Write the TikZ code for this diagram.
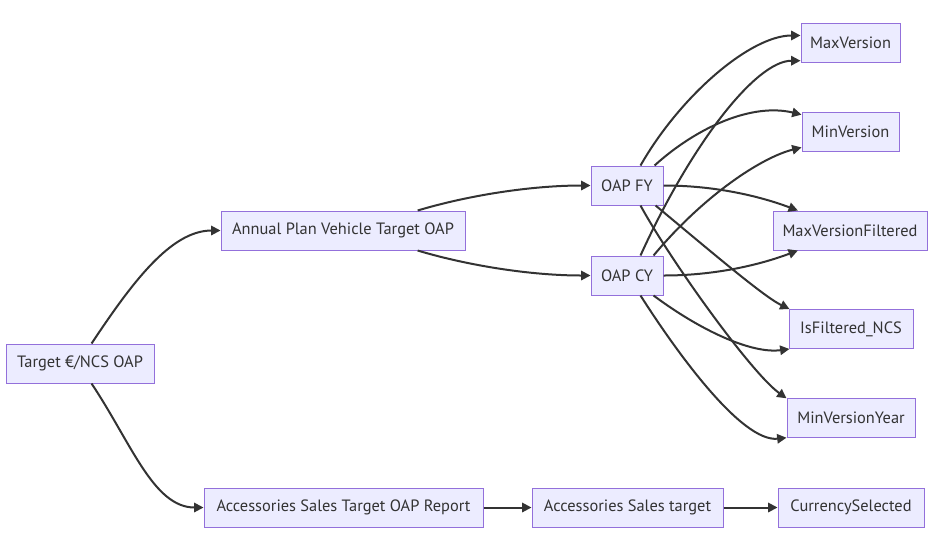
\documentclass[tikz,border=0pt]{standalone}
\usepackage{fontspec}
\setmainfont{PT Sans}
\usetikzlibrary{arrows.meta, positioning}
\definecolor{boxfill}{HTML}{ECECFF}
\definecolor{boxline}{HTML}{9370DB}
\definecolor{linkgray}{HTML}{333333}
\begin{document}
\begin{tikzpicture}[x=0.75pt, y=-0.75pt,
		box/.style={draw=boxline, fill=boxfill, line width=0.75pt, inner sep=0pt,
			minimum height=29.25pt, font=\fontsize{12.3}{14}\selectfont, text=linkgray},
		link/.style={draw=linkgray, line width=1.5pt, -{Triangle[length=7pt, width=7pt]}}]
				\useasboundingbox (0,0) rectangle (937,537);

				\node[box, minimum width=111pt] (target) at (80,363.5) {Target €/NCS OAP};
				\node[box, minimum width=183pt] (annual) at (343,230.5) {Annual Plan Vehicle Target OAP};
				\node[box, minimum width=209.25pt] (report) at (343.5,507.5) {Accessories Sales Target OAP Report};
				\node[box, minimum width=54pt] (fy) at (627,185.5) {OAP FY};
				\node[box, minimum width=54pt] (cy) at (627,275.5) {OAP CY};
				\node[box, minimum width=143.25pt] (acctarget) at (627.5,507.5) {Accessories Sales target};
				\node[box, minimum width=74.25pt] (maxv) at (850.5,42.5) {MaxVersion};
				\node[box, minimum width=72.75pt] (minv) at (850.5,131.5) {MinVersion};
				\node[box, minimum width=115.5pt] (maxvf) at (850,230.5) {MaxVersionFiltered};
				\node[box, minimum width=93pt] (isf) at (851,329) {IsFiltered\_NCS};
				\node[box, minimum width=96pt] (minvy) at (851,418) {MinVersionYear};
				\node[box, minimum width=109.5pt] (curr) at (851,507.5) {CurrencySelected};

				\draw[link] (target.60) .. controls +(40,-60) and +(-50,0) .. (annual.west);
				\draw[link] (target.-60) .. controls +(40,60) and +(-50,0) .. (report.west);

				\draw[link] (annual.15) .. controls +(50,-15) and +(-60,0) .. (fy.west);
				\draw[link] (annual.-15) .. controls +(50,15) and +(-60,0) .. (cy.west);

				\draw[link] (report) -- (acctarget);
				\draw[link] (acctarget) -- (curr);

				\draw[link] (fy.56) .. controls +(40,-70) and +(-50,0) .. (maxv.172);
				\draw[link] (fy.36) .. controls +(42,-38) and +(-50,-12) .. (minv.161);
				\draw[link] (fy.east) .. controls +(50,0) and +(-40,-15) .. (maxvf.159);
				\draw[link] (fy.-35) .. controls +(60,50) and +(-25,-12) .. (isf.162);
				\draw[link] (fy.-56) .. controls +(30,55) and +(-35,-25) .. (minvy.163);

				\draw[link] (cy.56) .. controls +(50,-110) and +(-45,0) .. (maxv.200);
				\draw[link] (cy.37) .. controls +(50,-60) and +(-40,10) .. (minv.198);
				\draw[link] (cy.east) .. controls +(50,0) and +(-40,15) .. (maxvf.201);
				\draw[link] (cy.-37) .. controls +(47,35) and +(-38,5) .. (isf.198);
				\draw[link] (cy.-56) .. controls +(35,55) and +(-45,5) .. (minvy.197);
			\end{tikzpicture}
\end{document}
